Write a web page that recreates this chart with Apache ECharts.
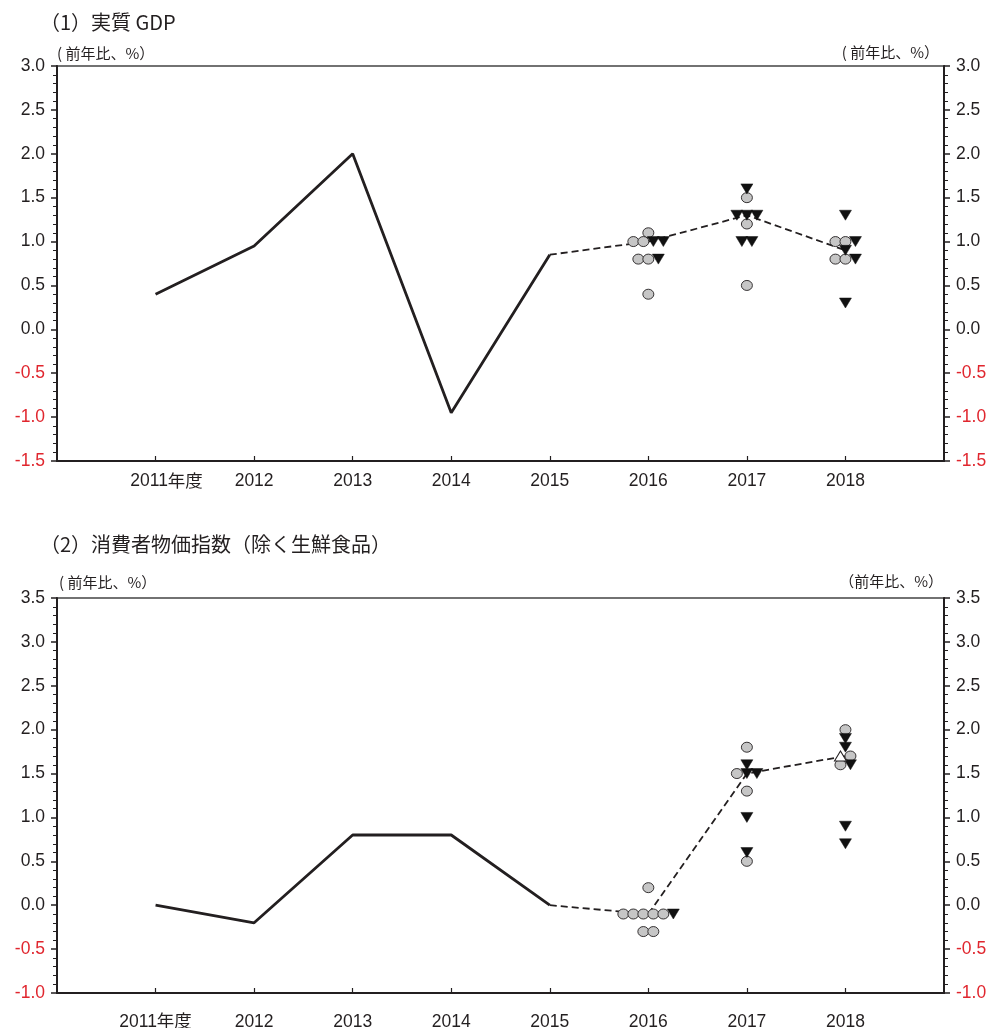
<!DOCTYPE html>
<html>
<head>
<meta charset="utf-8">
<style>
  html, body { margin: 0; padding: 0; background: #fff; }
  #chart { width: 992px; height: 1028px; }
</style>
<script src="https://cdn.jsdelivr.net/npm/echarts@6/dist/echarts.min.js"></script>
</head>
<body>
<div id="chart"></div>
<script>
// Fiscal years on the horizontal axis
const years = [2011, 2012, 2013, 2014, 2015, 2016, 2017, 2018];

// Actual results (solid line)
const actualYears = [2011, 2012, 2013, 2014, 2015];
const gdpActual = [0.4, 0.95, 2.0, -0.95, 0.85];
const cpiActual = [0.0, -0.2, 0.8, 0.8, 0.0];

// Median of the board members' forecasts (dashed line)
const medianYears = [2015, 2016, 2017, 2018];
const gdpMedian = [0.85, 1.0, 1.3, 0.9];
const cpiMedian = [0.0, -0.1, 1.5, 1.7];

// Individual forecasts per fiscal year, grouped by risk assessment
const forecastYears = [2016, 2017, 2018];
const gdpBalanced = [[1.1, 1.0, 1.0, 0.8, 0.8, 0.4], [1.5, 1.2, 0.5], [1.0, 1.0, 0.8, 0.8]];
const gdpUpside = [[], [], []];
const gdpDownside = [[1.0, 1.0, 0.8], [1.6, 1.3, 1.3, 1.3, 1.0, 1.0], [1.3, 1.0, 0.9, 0.8, 0.3]];
const cpiBalanced = [[0.2, -0.1, -0.1, -0.1, -0.1, -0.1, -0.3, -0.3], [1.8, 1.5, 1.3, 0.5], [2.0, 1.7, 1.6]];
const cpiUpside = [[], [], [1.7]];
const cpiDownside = [[-0.1], [1.6, 1.5, 1.5, 1.0, 0.6], [1.9, 1.8, 1.6, 0.9, 0.7]];

// Axis ranges
const gdpRange = [-1.5, 3.0];
const cpiRange = [-1.0, 3.5];

const TEXT = '#231f20';
const RED = '#e0262e';
const FONT = '"Liberation Sans", "Noto Sans CJK JP", sans-serif';
const CJK = '"Noto Sans CJK JP", "Liberation Sans", sans-serif';
const LABEL_SIZE = 17.5;
const SWARM_STEP = 10;

// Identical values in one year are laid side by side, centred on the year.
function swarm(balanced, upside, downside) {
  const out = { up: [], bal: [], down: [] };
  forecastYears.forEach((yr, i) => {
    const rows = {};
    const push = (kind, v) => {
      const key = v.toFixed(1);
      (rows[key] = rows[key] || []).push({ kind, v });
    };
    upside[i].forEach(v => push('up', v));
    balanced[i].forEach(v => push('bal', v));
    downside[i].forEach(v => push('down', v));
    Object.values(rows).forEach(row => {
      const n = row.length;
      row.forEach((p, k) => {
        out[p.kind].push({ value: [yr, p.v], symbolOffset: [(k - (n - 1) / 2) * SWARM_STEP, 0] });
      });
    });
  });
  return out;
}

const zip = (xs, ys) => xs.map((x, i) => [x, ys[i]]);

function yAxisDef(gridIndex, range, side) {
  return {
    type: 'value', gridIndex, position: side,
    min: range[0], max: range[1], interval: 0.5,
    axisLine: { show: true, onZero: false, lineStyle: { color: TEXT, width: 2 } },
    axisTick: { show: true, inside: false, length: 6, lineStyle: { color: TEXT, width: 1.5 } },
    minorTick: { show: true, splitNumber: 5, length: 4, lineStyle: { color: TEXT, width: 1 } },
    splitLine: { show: false },
    minorSplitLine: { show: false },
    axisLabel: {
      margin: 12, fontSize: LABEL_SIZE, fontFamily: FONT,
      formatter: v => Number(v).toFixed(1),
      color: v => (Number(v) < 0 ? RED : TEXT)
    }
  };
}

function xAxisDef(gridIndex, firstLabel, margin) {
  return {
    type: 'value', gridIndex, min: 2010, max: 2019, interval: 1,
    axisLine: { show: true, onZero: false, lineStyle: { color: TEXT, width: 2 } },
    axisTick: { show: true, inside: true, length: 5, lineStyle: { color: TEXT, width: 1.2 } },
    splitLine: { show: false },
    axisLabel: {
      margin, fontSize: LABEL_SIZE, fontFamily: FONT, color: TEXT,
      showMinLabel: false, showMaxLabel: false,
      formatter: v => {
        if (years.indexOf(v) < 0) return '';
        return v === years[0] ? firstLabel : String(v);
      },
      rich: {
        numShift: { fontSize: LABEL_SIZE, fontFamily: FONT, color: TEXT, padding: [0, 0, 0, 22] },
        suffix: { fontSize: LABEL_SIZE, fontFamily: CJK, color: TEXT }
      }
    }
  };
}

function seriesFor(idx, actual, median, balanced, upside, downside) {
  const pts = swarm(balanced, upside, downside);
  return [
    {
      type: 'line', xAxisIndex: idx, yAxisIndex: idx * 2, data: zip(actualYears, actual),
      symbol: 'none', lineStyle: { color: TEXT, width: 2.8 }, z: 3
    },
    {
      type: 'line', xAxisIndex: idx, yAxisIndex: idx * 2, data: zip(medianYears, median),
      symbol: 'none', lineStyle: { color: TEXT, width: 1.8, type: [7, 4] }, z: 3
    },
    {
      type: 'scatter', xAxisIndex: idx, yAxisIndex: idx * 2, data: pts.bal,
      symbol: 'circle', symbolSize: [11, 10],
      itemStyle: { color: '#c6c6c6', borderColor: TEXT, borderWidth: 0.9, opacity: 1 }, z: 5
    },
    {
      type: 'scatter', xAxisIndex: idx, yAxisIndex: idx * 2, data: pts.down,
      symbol: 'triangle', symbolRotate: 180, symbolSize: [12, 10],
      itemStyle: { color: '#111', borderColor: '#111', borderWidth: 0.5, opacity: 1 }, z: 6
    },
    {
      type: 'scatter', xAxisIndex: idx, yAxisIndex: idx * 2, data: pts.up,
      symbol: 'triangle', symbolSize: [12, 10],
      itemStyle: { color: '#fff', borderColor: TEXT, borderWidth: 1, opacity: 1 }, z: 6
    }
  ];
}

const textEl = (x, y, text, size, align) => ({
  type: 'text', x, y,
  style: { text, font: size + 'px ' + CJK, fill: TEXT, align: align || 'left', verticalAlign: 'middle' }
});

const gridDef = top => ({
  left: 57, right: 48, top, height: 395,
  outerBoundsMode: 'none', containLabel: false,
  show: true, borderColor: '#444', borderWidth: 1.5, backgroundColor: 'transparent'
});

const chart = echarts.init(document.getElementById('chart'), null, { renderer: 'canvas' });
chart.setOption({
  animation: false,
  backgroundColor: '#fff',
  grid: [gridDef(66), gridDef(598)],
  xAxis: [
    xAxisDef(0, '{numShift|2011}{suffix|年度}', 11),
    xAxisDef(1, '2011年度', 20)
  ],
  yAxis: [
    yAxisDef(0, gdpRange, 'left'), yAxisDef(0, gdpRange, 'right'),
    yAxisDef(1, cpiRange, 'left'), yAxisDef(1, cpiRange, 'right')
  ],
  series: [
    ...seriesFor(0, gdpActual, gdpMedian, gdpBalanced, gdpUpside, gdpDownside),
    ...seriesFor(1, cpiActual, cpiMedian, cpiBalanced, cpiUpside, cpiDownside)
  ],
  graphic: [
    textEl(40, 22, '（1）実質 GDP', 20),
    textEl(57, 53, '( 前年比、%）', 15),
    textEl(939, 52, '( 前年比、%）', 15, 'right'),
    textEl(40, 544, '（2）消費者物価指数（除く生鮮食品）', 20),
    textEl(59, 582, '( 前年比、%）', 15),
    textEl(943, 581, '（前年比、%）', 15, 'right')
  ]
});
</script>
</body>
</html>
